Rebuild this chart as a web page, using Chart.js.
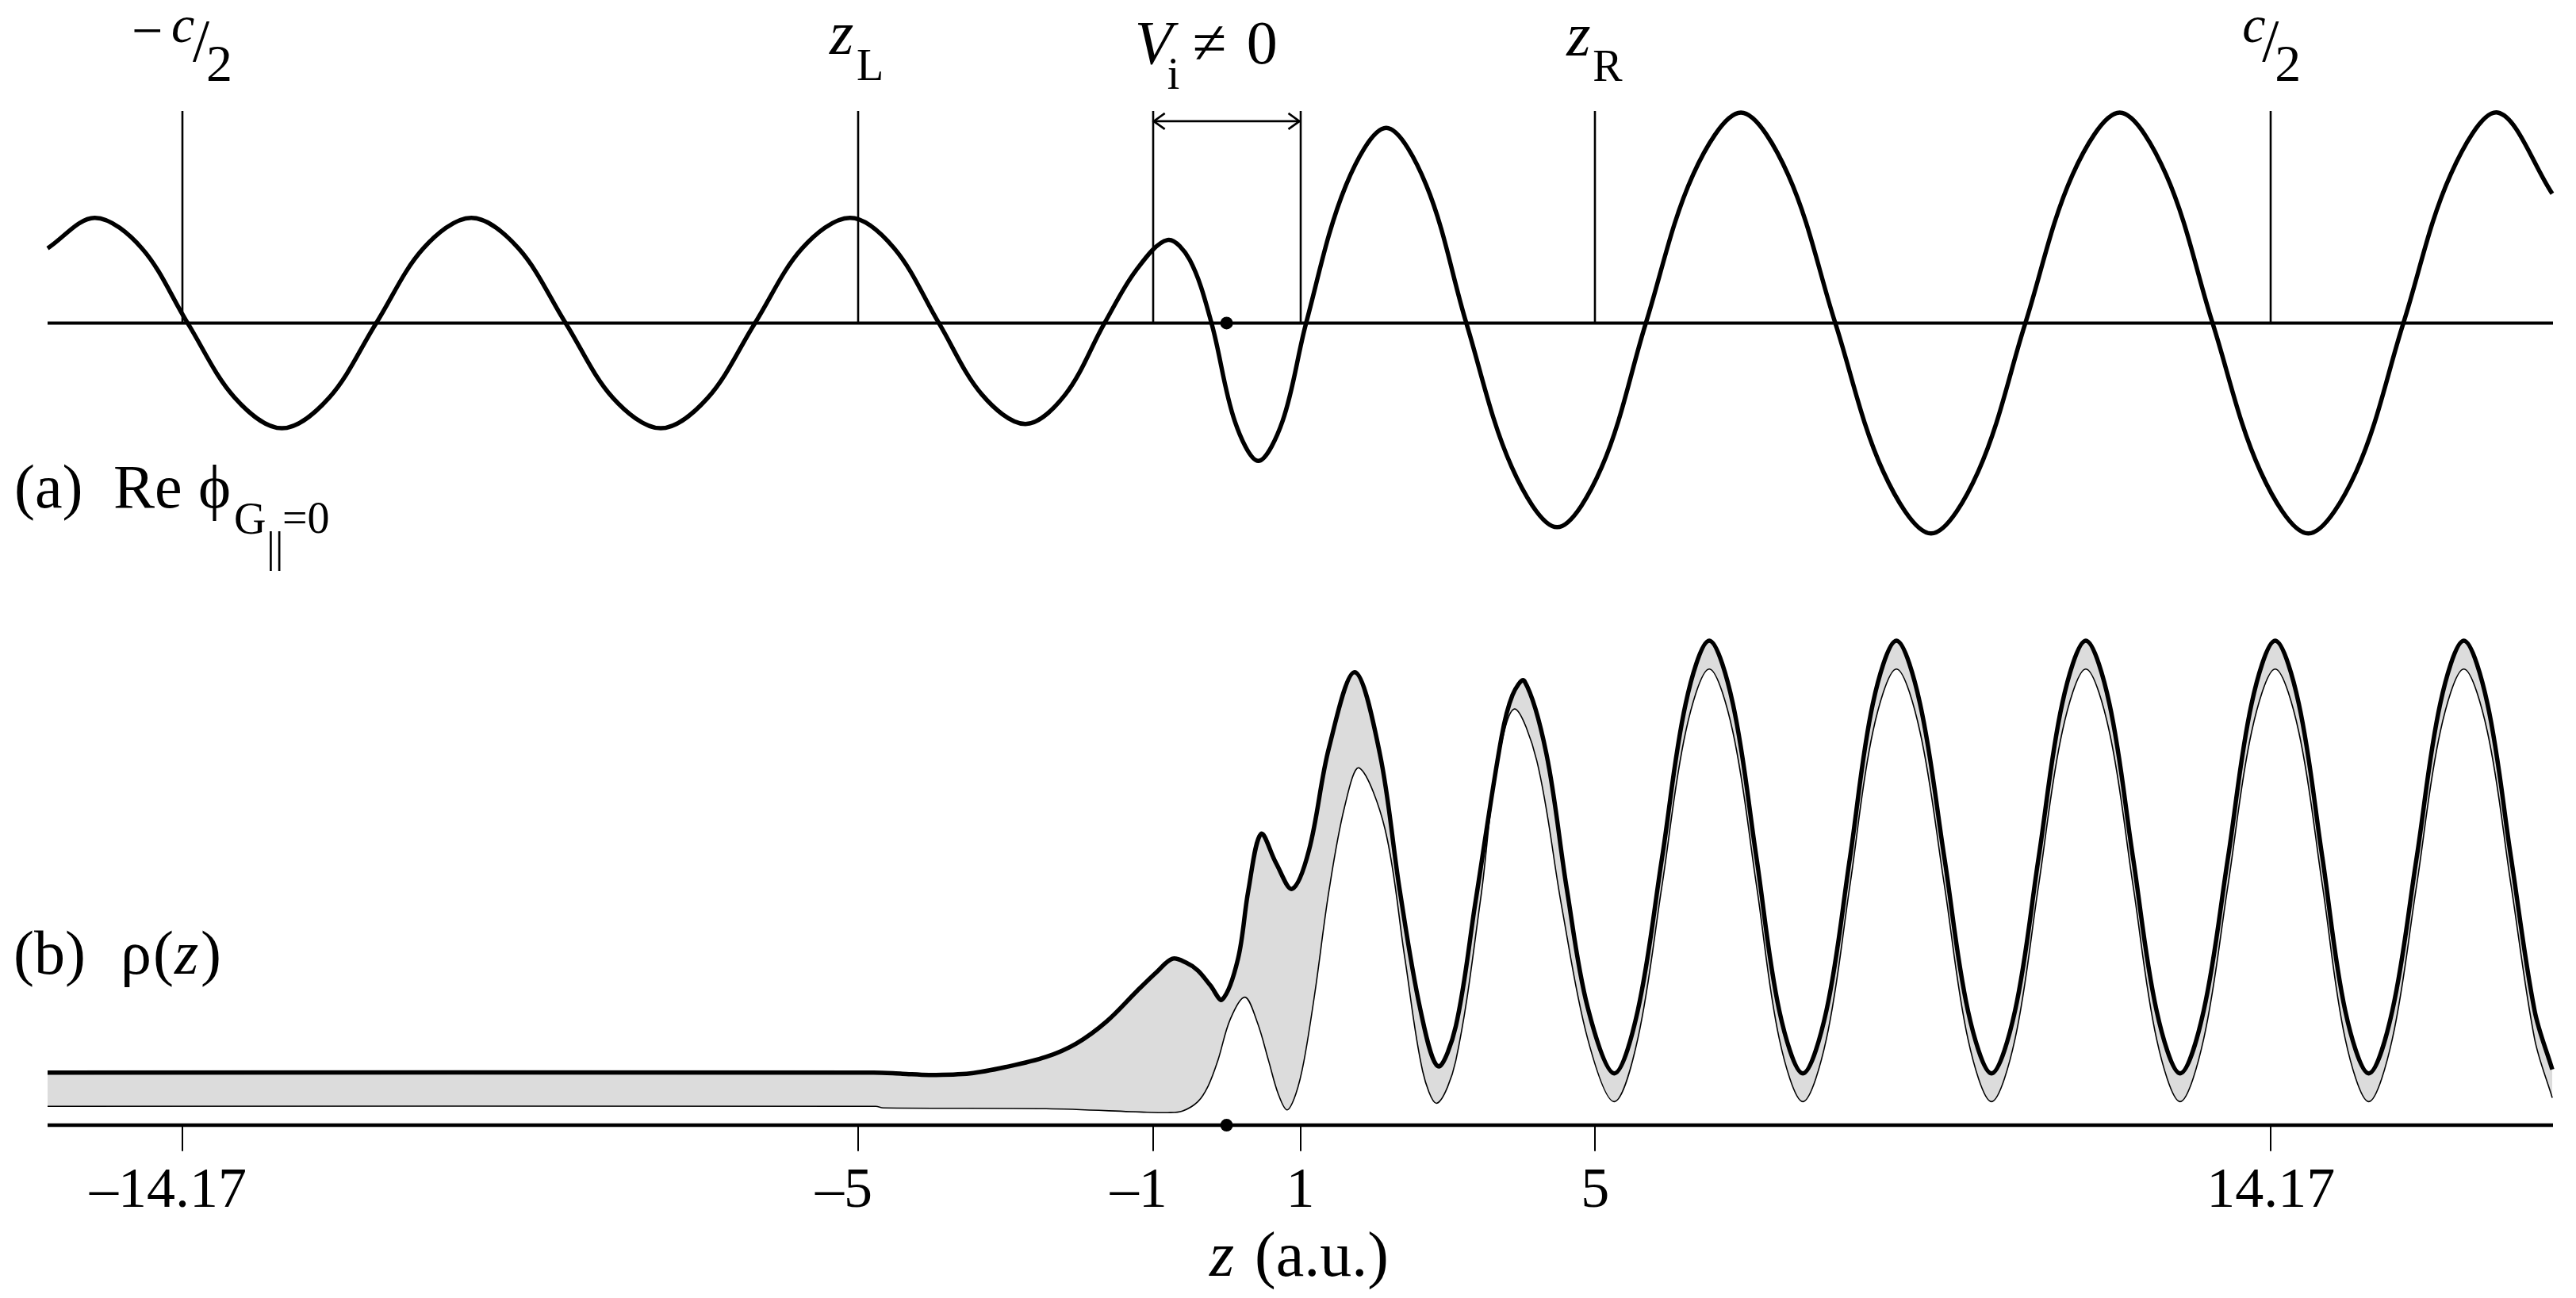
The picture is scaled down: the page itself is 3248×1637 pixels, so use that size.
<!DOCTYPE html>
<html>
<head>
<meta charset="utf-8">
<script src="https://cdn.jsdelivr.net/npm/chart.js@4.4.1/dist/chart.umd.min.js"></script>
<style>
  html, body { margin: 0; padding: 0; background: #fff; }
  canvas { display: block; }
  .probe { font-family: "Liberation Serif"; position: absolute; left: -9999px; }
</style>
</head>
<body>
<span class="probe">a <i>z</i></span>
<canvas id="chart" width="3248" height="1637"></canvas>
<script>
// (a) Re phi (left amplitude = 1)
const zPhi = [-16.00, -15.36, -14.72, -14.10, -13.46, -12.82, -12.18, -11.54, -10.90, -10.25,
  -9.61, -8.97, -8.33, -7.68, -7.04, -6.40, -5.76, -5.11, -4.51, -3.905,
  -3.32, -2.73, -2.19, -1.656, -1.23, -0.80, -0.50, -0.205, 0.11, 0.43,
  0.76, 1.079, 1.62, 2.166, 2.71, 3.253, 3.87, 4.485, 5.09, 5.69,
  6.33, 6.98, 7.62, 8.26, 8.91, 9.56, 10.20, 10.84, 11.48, 12.12,
  12.75, 13.38, 14.03, 14.68, 15.33, 15.97, 16.61, 17.25, 17.99];
const rePhi = [0.71, 1.00, 0.71, 0.00, -0.71, -1.00, -0.71, 0.00, 0.71, 1.00,
  0.71, 0.00, -0.71, -1.00, -0.71, 0.00, 0.71, 1.00, 0.71, 0.00,
  -0.68, -0.96, -0.68, 0.00, 0.50, 0.79, 0.60, 0.00, -0.93, -1.31,
  -0.93, 0.00, 1.31, 1.855, 1.31, 0.00, -1.37, -1.94, -1.37, 0.00,
  1.41, 2.00, 1.41, 0.00, -1.41, -2.00, -1.41, 0.00, 1.41, 2.00,
  1.41, 0.00, -1.41, -2.00, -1.41, 0.00, 1.41, 2.00, 1.23];

// (b) rho(z), thick outer curve
const zRho = [-16.00, -4.79, -4.40, -4.03, -3.48, -3.00, -2.45, -2.04, -1.63, -1.215,
  -0.95, -0.735, -0.55, -0.39, -0.22, -0.06, 0.155, 0.295, 0.467, 0.67,
  0.89, 1.12, 1.39, 1.74, 2.08, 2.35, 2.63, 2.87, 3.11, 3.38,
  3.73, 3.88, 4.04, 4.34, 4.62, 4.90, 5.26, 5.58, 5.91, 6.23,
  6.55, 6.87, 7.19, 7.50, 7.82, 8.14, 8.46, 8.77, 9.09, 9.41,
  9.74, 10.06, 10.38, 10.70, 11.02, 11.34, 11.66, 11.98, 12.30, 12.62,
  12.94, 13.26, 13.59, 13.91, 14.23, 14.55, 14.87, 15.18, 15.50, 15.82,
  16.15, 16.47, 16.79, 17.11, 17.43, 17.75, 17.99];
const rhoTotal = [0.67, 0.67, 0.655, 0.64, 0.66, 0.74, 0.87, 1.04, 1.32, 1.71,
  1.95, 2.12, 2.07, 1.97, 1.78, 1.60, 2.12, 2.99, 3.71, 3.34,
  3.01, 3.51, 4.81, 5.77, 4.73, 2.99, 1.47, 0.75, 1.26, 2.86,
  4.94, 5.48, 5.66, 4.73, 2.99, 1.50, 0.66, 1.46, 3.41, 5.37,
  6.17, 5.37, 3.41, 1.46, 0.66, 1.46, 3.41, 5.37, 6.17, 5.37,
  3.41, 1.46, 0.66, 1.46, 3.41, 5.37, 6.17, 5.37, 3.41, 1.46,
  0.66, 1.46, 3.41, 5.37, 6.17, 5.37, 3.41, 1.46, 0.66, 1.46,
  3.41, 5.37, 6.17, 5.37, 3.41, 1.46, 0.71];

// (b) thin inner curve
const zRhoIn = [-16.00, -4.76, -4.66, -2.45, -1.08, -0.80, -0.60, -0.39, -0.25, -0.12,
  0.05, 0.25, 0.42, 0.57, 0.70, 0.82, 0.94, 1.05, 1.20, 1.39,
  1.60, 1.80, 2.15, 2.42, 2.66, 2.855, 3.11, 3.45, 3.65, 3.90,
  4.21, 4.55, 4.90, 5.26, 5.58, 5.91, 6.23, 6.55, 6.87, 7.19,
  7.50, 7.82, 8.14, 8.46, 8.77, 9.09, 9.41, 9.74, 10.06, 10.38,
  10.70, 11.02, 11.34, 11.66, 11.98, 12.30, 12.62, 12.94, 13.26, 13.59,
  13.91, 14.23, 14.55, 14.87, 15.18, 15.50, 15.82, 16.15, 16.47, 16.79,
  17.11, 17.43, 17.75, 17.99];
const rhoIn = [0.24, 0.24, 0.22, 0.21, 0.165, 0.16, 0.18, 0.30, 0.50, 0.82,
  1.35, 1.63, 1.30, 0.82, 0.40, 0.195, 0.40, 0.82, 1.70, 2.99,
  4.05, 4.55, 3.77, 2.12, 0.69, 0.28, 0.82, 2.90, 4.45, 5.30,
  4.64, 2.77, 1.10, 0.30, 1.10, 3.06, 5.01, 5.81, 5.01, 3.06,
  1.10, 0.30, 1.10, 3.06, 5.01, 5.81, 5.01, 3.06, 1.10, 0.30,
  1.10, 3.06, 5.01, 5.81, 5.01, 3.06, 1.10, 0.30, 1.10, 3.06,
  5.01, 5.81, 5.01, 3.06, 1.10, 0.30, 1.10, 3.06, 5.01, 5.81,
  5.01, 3.06, 1.10, 0.35];

// marker positions and bottom tick labels
const markerZ = [-14.17, -5, -1, 1, 5, 14.17];
const tickLabels = ['–14.17', '–5', '–1', '1', '5', '14.17'];
const zRange = [-16, 18];

const serif = '"Liberation Serif", "Times New Roman", Tinos, "DejaVu Serif", serif';
const pts = (xs, ys) => xs.map((x, i) => ({ x: x, y: ys[i] }));

function seg(ctx, x1, y1, x2, y2) {
  ctx.beginPath();
  ctx.moveTo(x1, y1);
  ctx.lineTo(x2, y2);
  ctx.stroke();
}

function txt(ctx, s, x, y, size, italic) {
  ctx.font = (italic ? 'italic ' : '') + size + 'px ' + serif;
  ctx.fillText(s, x, y);
}

// baselines, marker lines, arrow and all the labels
const annotate = {
  id: 'annotate',
  beforeDatasetsDraw(chart) {
    const ctx = chart.ctx;
    const x = chart.scales.x, yT = chart.scales.yTop, yB = chart.scales.yBot;
    const x0 = x.getPixelForValue(zRange[0]), x1 = x.getPixelForValue(zRange[1]);
    const top0 = yT.getPixelForValue(0), bot0 = yB.getPixelForValue(0);
    ctx.save();
    ctx.strokeStyle = '#000';
    ctx.lineCap = 'butt';

    ctx.lineWidth = 4;
    seg(ctx, x0, top0, x1, top0);
    ctx.lineWidth = 4.5;
    seg(ctx, x0, bot0, x1, bot0);

    // vertical markers in (a)
    ctx.lineWidth = 2.6;
    const lineTop = yT.getPixelForValue(2.015);
    markerZ.forEach(z => {
      const px = Math.round(x.getPixelForValue(z));
      seg(ctx, px, lineTop, px, top0);
    });

    // ticks under the axis in (b)
    ctx.lineWidth = 2;
    const tickEnd = yB.getPixelForValue(-0.33);
    markerZ.forEach(z => {
      const px = Math.round(x.getPixelForValue(z));
      seg(ctx, px, bot0, px, tickEnd);
    });

    // double arrow between -1 and 1
    const ay = yT.getPixelForValue(1.918);
    const ax1 = x.getPixelForValue(-1), ax2 = x.getPixelForValue(1);
    ctx.lineWidth = 2.6;
    seg(ctx, ax1, ay, ax2, ay);
    ctx.beginPath();
    ctx.moveTo(ax1 + 15, ay - 10); ctx.lineTo(ax1 + 1, ay); ctx.lineTo(ax1 + 15, ay + 10);
    ctx.moveTo(ax2 - 15, ay - 10); ctx.lineTo(ax2 - 1, ay); ctx.lineTo(ax2 - 15, ay + 10);
    ctx.stroke();
    ctx.restore();
  },
  afterDatasetsDraw(chart) {
    const ctx = chart.ctx;
    const x = chart.scales.x;
    const px = z => x.getPixelForValue(z);
    ctx.save();
    ctx.fillStyle = '#000';
    ctx.textAlign = 'left';
    ctx.textBaseline = 'alphabetic';

    // -c/2
    let p = px(-14.17);
    txt(ctx, '−', p - 64, 62, 70, false);
    txt(ctx, 'c', p - 14, 53, 66, true);
    txt(ctx, '/', p + 13, 77, 76, false);
    txt(ctx, '2', p + 30, 102, 66, false);

    // z_L
    p = px(-5);
    txt(ctx, 'z', p - 36, 68, 78, true);
    txt(ctx, 'L', p - 2, 101, 56, false);

    // V_i != 0
    p = px(-1);
    txt(ctx, 'V', p - 23, 80, 78, true);
    txt(ctx, 'i', p + 18, 112, 56, false);
    txt(ctx, '≠', p + 50, 80, 78, false);
    txt(ctx, '0', p + 118, 80, 78, false);

    // z_R
    p = px(5);
    txt(ctx, 'z', p - 36, 70, 78, true);
    txt(ctx, 'R', p - 3, 102, 56, false);

    // c/2
    p = px(14.17);
    txt(ctx, 'c', p - 36, 53, 66, true);
    txt(ctx, '/', p - 11, 77, 76, false);
    txt(ctx, '2', p + 5, 102, 66, false);

    // panel labels
    txt(ctx, '(a)', 18, 640, 78, false);
    txt(ctx, 'Re', 143, 640, 78, false);
    txt(ctx, 'ϕ', 250, 640, 78, false);
    txt(ctx, 'G', 295, 673, 56, false);
    txt(ctx, '||', 336, 708, 54, false);
    txt(ctx, '=0', 356, 672, 56, false);

    txt(ctx, '(b)', 17, 1228, 78, false);
    txt(ctx, 'ρ', 152, 1228, 78, false);
    txt(ctx, '(', 193, 1228, 78, false);
    txt(ctx, 'z', 220, 1228, 78, true);
    txt(ctx, ')', 253, 1228, 78, false);

    // bottom tick labels, digits centred on the tick, dash hanging left
    ctx.font = '72px ' + serif;
    markerZ.forEach((z, i) => {
      const s = tickLabels[i];
      const neg = s.startsWith('–');
      const digits = neg ? s.slice(1) : s;
      const w = ctx.measureText(digits).width;
      const left = px(z) - w / 2;
      ctx.fillText(digits, left, 1522);
      if (neg) ctx.fillText('–', left - ctx.measureText('–').width, 1522);
    });

    // axis title
    txt(ctx, 'z', 1525, 1609, 80, true);
    txt(ctx, '(a.u.)', 1582, 1609, 80, false);
    ctx.restore();
  }
};

const lineStyle = {
  pointRadius: 0,
  borderColor: '#000',
  tension: 0.34,
  borderJoinStyle: 'round',
  clip: false
};

function makeChart() {
  new Chart(document.getElementById('chart'), {
    type: 'line',
    data: {
      datasets: [
        Object.assign({ label: 'Re phi', data: pts(zPhi, rePhi), yAxisID: 'yTop', borderWidth: 5.5, fill: false }, lineStyle),
        Object.assign({ label: 'rho', data: pts(zRho, rhoTotal), yAxisID: 'yBot', borderWidth: 5.5,
          fill: '+1', backgroundColor: '#dcdcdc' }, lineStyle),
        Object.assign({ label: 'rho inner', data: pts(zRhoIn, rhoIn), yAxisID: 'yBot', borderWidth: 1.6, fill: false }, lineStyle),
        { label: 'origin a', data: [{ x: 0, y: 0 }], yAxisID: 'yTop', showLine: false,
          pointRadius: 8, pointBackgroundColor: '#000', pointBorderWidth: 0 },
        { label: 'origin b', data: [{ x: 0, y: 0 }], yAxisID: 'yBot', showLine: false,
          pointRadius: 8, pointBackgroundColor: '#000', pointBorderWidth: 0 }
      ]
    },
    options: {
      responsive: false,
      devicePixelRatio: 1,
      animation: false,
      events: [],
      layout: { padding: { left: 60, right: 29, top: 0, bottom: 0 } },
      scales: {
        x: { type: 'linear', min: zRange[0], max: zRange[1], display: false },
        yTop: { type: 'linear', position: 'left', min: -9.206, max: 3.01, display: false },
        yBot: { type: 'linear', position: 'left', min: -2.12, max: 14.25, display: false }
      },
      plugins: {
        legend: { display: false },
        tooltip: { enabled: false },
        filler: { drawTime: 'beforeDatasetsDraw' }
      }
    },
    plugins: [annotate]
  });
}

// make sure the serif face is ready before the canvas text is drawn
Promise.all([
  document.fonts.load('78px "Liberation Serif"'),
  document.fonts.load('italic 78px "Liberation Serif"')
]).catch(() => {}).then(makeChart);
</script>
</body>
</html>
